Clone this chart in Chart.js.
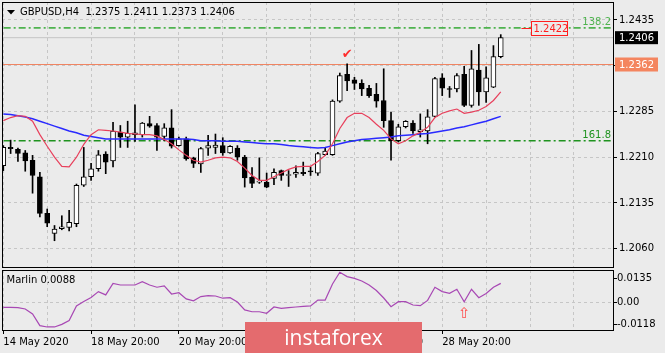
<!DOCTYPE html>
<html lang="en">
<head>
<meta charset="UTF-8">
<title>GBPUSD,H4</title>
<script src="https://cdn.jsdelivr.net/npm/chart.js"></script>
<style>
    body {
        margin: 0;
        width: 665px;
        height: 353px;
        overflow: hidden;
        position: relative;
        background-color: #ebebeb;
    }
    canvas { position: absolute; left: 0; }
    #priceChart { top: 0; }
    #marlinChart { top: 268px; }
</style>
</head>
<body>
<canvas id="priceChart" width="665" height="268"></canvas>
<canvas id="marlinChart" width="665" height="85"></canvas>
<script>
// GBPUSD H4 candles, 14 May 20:00 .. 29 May 2020
const open = [1.2196,1.2226,1.2223,1.2217,1.2205,1.2178,1.2118,1.2085,1.2093,1.2095,
    1.2101,1.2164,1.2178,1.2191,1.2215,1.2204,1.2251,1.2243,1.2247,1.2247,
    1.2265,1.2262,1.2244,1.2258,1.2229,1.2240,1.2209,1.2199,1.2225,1.2226,
    1.2229,1.2217,1.2225,1.2210,1.2177,1.2169,1.2169,1.2175,1.2188,1.2180,
    1.2182,1.2185,1.2187,1.2184,1.2214,1.2214,1.2302,1.2346,1.2337,1.2331,
    1.2323,1.2313,1.2303,1.2270,1.2237,1.2260,1.2266,1.2252,1.2253,1.2277,
    1.2340,1.2322,1.2322,1.2346,1.2295,1.2353,1.2317,1.2325,1.2375];
const high = [1.2229,1.2238,1.2225,1.2221,1.2213,1.2185,1.2125,1.2098,1.2114,1.2123,
    1.2166,1.2226,1.2200,1.2221,1.2219,1.2267,1.2262,1.2269,1.2296,1.2267,
    1.2277,1.2265,1.2265,1.2288,1.2243,1.2243,1.2210,1.2226,1.2246,1.2248,
    1.2242,1.2229,1.2229,1.2213,1.2193,1.2209,1.2184,1.2191,1.2189,1.2188,
    1.2196,1.2202,1.2194,1.2218,1.2225,1.2304,1.2348,1.2363,1.2341,1.2337,
    1.2328,1.2331,1.2355,1.2284,1.2264,1.2270,1.2270,1.2281,1.2288,1.2341,
    1.2347,1.2326,1.2347,1.2359,1.2385,1.2395,1.2358,1.2393,1.2411];
const low = [1.2188,1.2216,1.2203,1.2187,1.2151,1.2112,1.2096,1.2073,1.2091,1.2089,
    1.2096,1.2162,1.2172,1.2187,1.2183,1.2194,1.2226,1.2226,1.2236,1.2243,
    1.2259,1.2221,1.2237,1.2225,1.2228,1.2205,1.2193,1.2185,1.2213,1.2216,
    1.2213,1.2216,1.2205,1.2161,1.2160,1.2167,1.2160,1.2165,1.2172,1.2162,
    1.2177,1.2180,1.2180,1.2180,1.2213,1.2213,1.2300,1.2319,1.2321,1.2311,
    1.2308,1.2292,1.2259,1.2205,1.2235,1.2258,1.2249,1.2243,1.2232,1.2276,
    1.2311,1.2308,1.2317,1.2293,1.2292,1.2295,1.2300,1.2324,1.2373];
const close = [1.2226,1.2224,1.2216,1.2204,1.2180,1.2118,1.2102,1.2092,1.2096,1.2103,
    1.2164,1.2178,1.2191,1.2214,1.2202,1.2253,1.2243,1.2249,1.2250,1.2266,
    1.2261,1.2243,1.2258,1.2228,1.2240,1.2207,1.2200,1.2224,1.2229,1.2230,
    1.2217,1.2228,1.2210,1.2176,1.2167,1.2170,1.2161,1.2185,1.2180,1.2181,
    1.2185,1.2183,1.2186,1.2216,1.2220,1.2302,1.2344,1.2335,1.2331,1.2322,
    1.2311,1.2302,1.2270,1.2237,1.2260,1.2269,1.2253,1.2255,1.2276,1.2339,
    1.2323,1.2321,1.2344,1.2295,1.2355,1.2317,1.2340,1.2375,1.2406];

// moving averages (red = fast, blue = slow)
const maFast = [1.2270,1.2275,1.2278,1.2277,1.2269,1.2247,1.2228,1.2210,1.2195,1.2194,
    1.2210,1.2231,1.2247,1.2255,1.2254,1.2253,1.2251,1.2249,1.2248,1.2247,
    1.2247,1.2245,1.2239,1.2232,1.2222,1.2213,1.2205,1.2202,1.2205,1.2209,
    1.2210,1.2209,1.2203,1.2192,1.2180,1.2172,1.2172,1.2178,1.2184,1.2190,
    1.2194,1.2195,1.2195,1.2203,1.2213,1.2232,1.2257,1.2275,1.2282,1.2282,
    1.2275,1.2264,1.2254,1.2240,1.2232,1.2237,1.2245,1.2251,1.2259,1.2275,
    1.2282,1.2286,1.2289,1.2282,1.2284,1.2287,1.2293,1.2303,1.2317];
const maSlow = [1.2281,1.2280,1.2278,1.2276,1.2273,1.2269,1.2265,1.2261,1.2257,1.2253,
    1.2250,1.2246,1.2244,1.2242,1.2240,1.2240,1.2240,1.2240,1.2240,1.2240,
    1.2240,1.2240,1.2240,1.2240,1.2240,1.2240,1.2239,1.2237,1.2237,1.2237,
    1.2236,1.2236,1.2236,1.2235,1.2234,1.2233,1.2232,1.2232,1.2231,1.2229,
    1.2228,1.2227,1.2226,1.2225,1.2226,1.2229,1.2232,1.2235,1.2237,1.2239,
    1.2240,1.2241,1.2242,1.2243,1.2245,1.2246,1.2247,1.2248,1.2249,1.2251,
    1.2253,1.2255,1.2258,1.2260,1.2263,1.2266,1.2269,1.2273,1.2277];

// Marlin oscillator
const marlin = [-0.0025,-0.0025,-0.0026,-0.0034,-0.0061,-0.0125,-0.0132,-0.0132,-0.0118,-0.0097,
    -0.0017,0.0007,0.0029,0.0061,0.0043,0.0106,0.0097,0.0097,0.0097,0.0115,
    0.0097,0.0085,0.0092,0.0048,0.0055,0.0021,0.0011,0.0034,0.0039,0.0037,
    0.0025,0.0028,0.0004,-0.0039,-0.0049,-0.0049,-0.0057,-0.0023,-0.0030,-0.0026,
    -0.0023,-0.0020,-0.0017,0.0015,0.0015,0.0103,0.0167,0.0143,0.0133,0.0119,
    0.0097,0.0067,0.0026,-0.0021,0.0006,0.0006,-0.0012,-0.0016,0.0013,0.0085,
    0.0061,0.0052,0.0074,0.0006,0.0074,0.0028,0.0051,0.0085,0.0106];
const marlinText = 'Marlin 0.0088';

// horizontal levels
const fiboNames = ['138.2', '161.8'];
const fiboPrices = [1.2422, 1.2237];
const fiboColors = ['#4fb34f', '#1f931f'];
const resistPrice = 1.2362;
const markPrice = 1.2422;
const bidPrice = 1.2406;

// axes
const priceTicks = [1.2060, 1.2135, 1.2210, 1.2285, 1.2360, 1.2435];
const priceTickLabels = ['1.2060', '1.2135', '1.2210', '1.2285', '', '1.2435'];
const marlinTicks = [-0.0118, 0, 0.0135];
const marlinTickLabels = ['-0.0118', '0.00', '0.0135'];
const gridBars = [0, 6, 12, 18, 24, 30, 36, 42, 48, 54, 60, 66, 72, 78];
const dateBars = [0, 12, 24, 36, 48, 60];
const dateLabels = ['14 May 2020', '18 May 20:00', '20 May 20:00', '22 May 20:00', '26 May 20:00', '28 May 20:00'];

const symbol = 'GBPUSD,H4';
const checkBar = 47;
const arrowBar = 63;

const FONT = 'DejaVu Sans';
const X_MIN = -0.178, X_MAX = 83.48;
const last = close.length - 1;

const frame = {
    id: 'frame',
    afterDraw(chart) {
        const { ctx, chartArea: a } = chart;
        ctx.save();
        ctx.strokeStyle = '#000';
        ctx.lineWidth = 1;
        ctx.strokeRect(a.left + 0.5, a.top + 0.5, a.right - a.left - 1, a.bottom - a.top - 1);
        ctx.restore();
    }
};

const priceMarks = {
    id: 'priceMarks',
    afterDraw(chart) {
        const { ctx, chartArea: a } = chart;
        const xs = chart.scales.x, ys = chart.scales.y;
        ctx.save();
        ctx.font = '10px "' + FONT + '"';
        ctx.textBaseline = 'middle';

        // title
        ctx.fillStyle = '#000';
        ctx.beginPath();
        ctx.moveTo(7, 10); ctx.lineTo(15, 10); ctx.lineTo(11, 14.5); ctx.closePath();
        ctx.fill();
        const ohlc = [open[last], high[last], low[last], close[last]].map(v => v.toFixed(4)).join(' ');
        ctx.textAlign = 'left';
        ctx.fillText(symbol + '  ' + ohlc, 20, 12.5);

        // fibo level captions
        ctx.textAlign = 'right';
        ctx.textBaseline = 'alphabetic';
        fiboNames.forEach((n, i) => {
            ctx.fillStyle = fiboColors[i];
            ctx.fillText(n, a.right - 3, ys.getPixelForValue(fiboPrices[i]) - 3);
        });

        // red price mark
        const my = Math.round(ys.getPixelForValue(markPrice)) + 0.5;
        const mx = xs.getPixelForValue(72.2);
        ctx.strokeStyle = '#ff1e1e';
        ctx.lineWidth = 1;
        ctx.beginPath();
        ctx.moveTo(mx - 10, my); ctx.lineTo(mx, my);
        ctx.stroke();
        ctx.fillStyle = '#ebebeb';
        ctx.fillRect(mx, my - 7, 37, 14);
        ctx.strokeRect(Math.round(mx) + 0.5, my - 7, 36, 14);
        ctx.fillStyle = '#ff1e1e';
        ctx.textAlign = 'left';
        ctx.textBaseline = 'middle';
        ctx.fillText(markPrice.toFixed(4), mx + 2, my + 0.5);

        // check mark above the swing high
        ctx.font = 'bold 13px "' + FONT + '"';
        ctx.textAlign = 'center';
        ctx.fillStyle = '#ff2d2d';
        ctx.fillText('\u2714', xs.getPixelForValue(checkBar), ys.getPixelForValue(high[checkBar]) - 9);

        // right axis price boxes
        ctx.font = '10px "' + FONT + '"';
        ctx.textAlign = 'left';
        const ry = ys.getPixelForValue(resistPrice);
        ctx.fillStyle = '#f4855f';
        ctx.fillRect(a.right + 1, ry - 7, 43, 14);
        ctx.fillStyle = '#fff';
        ctx.fillText(resistPrice.toFixed(4), a.right + 5, ry + 0.5);
        const by = ys.getPixelForValue(bidPrice);
        ctx.fillStyle = '#000';
        ctx.fillRect(a.right + 1, by - 6.5, 43, 13);
        ctx.fillStyle = '#fff';
        ctx.fillText(bidPrice.toFixed(4), a.right + 5, by + 0.5);
        ctx.restore();
    }
};

const marlinMarks = {
    id: 'marlinMarks',
    afterDraw(chart) {
        const { ctx } = chart;
        const xs = chart.scales.x, ys = chart.scales.y;
        ctx.save();
        ctx.font = '10px "' + FONT + '"';
        ctx.textBaseline = 'middle';
        ctx.fillStyle = '#000';
        ctx.fillText(marlinText, 6.5, 12.5);

        ctx.font = '15px "' + FONT + '"';
        ctx.textAlign = 'center';
        ctx.fillStyle = '#ff4a4a';
        ctx.fillText('\u21E7', xs.getPixelForValue(arrowBar), ys.getPixelForValue(marlin[arrowBar]) + 12);

        // watermark
        ctx.fillStyle = '#e46b6e';
        ctx.fillRect(245, 54, 177, 31);
        ctx.fillStyle = '#fff';
        ctx.font = '21px "Open Sans"';
        ctx.textBaseline = 'alphabetic';
        ctx.fillText('instaforex', 333.5, 77);
        ctx.restore();
    }
};

const tickFont = { family: FONT, size: 10 };
const idx = close.map((_, i) => i);
const levelLine = (price, color, dash, width) => ({
    type: 'line',
    data: [{ x: -2, y: price }, { x: 90, y: price }],
    borderColor: color, borderWidth: width, borderDash: dash,
    pointRadius: 0
});

new Chart(document.getElementById('priceChart'), {
    type: 'bar',
    data: {
        datasets: [
            { type: 'line', data: idx.map(i => ({ x: i, y: maFast[i] })), borderColor: '#e8405c', borderWidth: 1.2, pointRadius: 0, tension: 0 },
            { type: 'line', data: idx.map(i => ({ x: i, y: maSlow[i] })), borderColor: '#2a2aff', borderWidth: 1.5, pointRadius: 0, tension: 0 },
            {
                data: idx.map(i => ({ x: i, y: [Math.min(open[i], close[i]), Math.max(open[i], close[i])] })),
                backgroundColor: idx.map(i => close[i] >= open[i] ? '#ffffff' : '#000000'),
                borderColor: '#000', borderWidth: 1, borderSkipped: false,
                barThickness: 5, minBarLength: 1, grouped: false
            },
            {
                data: idx.map(i => ({ x: i, y: [low[i], high[i]] })),
                backgroundColor: '#000', borderWidth: 0,
                barThickness: 1, grouped: false
            },
            levelLine(bidPrice, '#c4c4c4', [], 1),
            levelLine(resistPrice, '#f08462', [], 1),
            levelLine(fiboPrices[0], fiboColors[0], [7, 3, 2, 3], 1.6),
            levelLine(fiboPrices[1], fiboColors[1], [7, 3, 2, 3], 1.4)
        ]
    },
    options: {
        responsive: false,
        animation: false,
        devicePixelRatio: 1,
        layout: { padding: { top: 2, left: 2, right: 0, bottom: 0 } },
        plugins: { legend: { display: false }, tooltip: { enabled: false } },
        scales: {
            x: {
                type: 'linear', min: X_MIN, max: X_MAX, offset: false,
                afterBuildTicks: s => { s.ticks = gridBars.map(v => ({ value: v })); },
                afterFit: s => { s.height = 0; s.paddingLeft = 0; s.paddingRight = 0; },
                ticks: { display: false },
                grid: { color: '#c6c6c6', drawTicks: false, offset: false },
                border: { display: false, dash: [3, 3] }
            },
            y: {
                position: 'right', min: 1.20283, max: 1.24645,
                afterBuildTicks: s => { s.ticks = priceTicks.map(v => ({ value: v })); },
                afterFit: s => { s.width = 51; s.paddingTop = 0; s.paddingBottom = 0; },
                ticks: { color: '#000', font: tickFont, padding: 2, callback: (v, i) => priceTickLabels[i] },
                grid: { color: '#c6c6c6', tickColor: '#000', tickLength: 3, tickBorderDash: [] },
                border: { display: false, dash: [3, 3] }
            }
        }
    },
    plugins: [frame, priceMarks]
});

new Chart(document.getElementById('marlinChart'), {
    type: 'line',
    data: {
        datasets: [
            { data: idx.map(i => ({ x: i, y: marlin[i] })), borderColor: '#a848b4', borderWidth: 1.2, pointRadius: 0, tension: 0 }
        ]
    },
    options: {
        responsive: false,
        animation: false,
        devicePixelRatio: 1,
        layout: { padding: { top: 2, left: 2, right: 0, bottom: 0 } },
        plugins: { legend: { display: false }, tooltip: { enabled: false } },
        scales: {
            x: {
                type: 'linear', min: X_MIN, max: X_MAX, offset: false,
                afterBuildTicks: s => { s.ticks = gridBars.map(v => ({ value: v })); },
                afterFit: s => { s.height = 22; s.paddingLeft = 0; s.paddingRight = 0; },
                ticks: {
                    autoSkip: false, maxRotation: 0, align: 'start', padding: 2,
                    color: '#000', font: tickFont,
                    callback: v => { const k = dateBars.indexOf(v); return k < 0 ? '' : dateLabels[k]; }
                },
                grid: {
                    color: '#c6c6c6', tickLength: 3, tickBorderDash: [],
                    tickColor: c => (c.tick && dateBars.includes(c.tick.value)) ? '#000' : 'rgba(0,0,0,0)'
                },
                border: { display: false, dash: [3, 3] }
            },
            y: {
                position: 'right', min: -0.0154, max: 0.0179,
                afterBuildTicks: s => { s.ticks = marlinTicks.map(v => ({ value: v })); },
                afterFit: s => { s.width = 51; s.paddingTop = 0; s.paddingBottom = 0; },
                ticks: { color: '#000', font: tickFont, padding: 0, callback: (v, i) => marlinTickLabels[i] },
                grid: {
                    color: c => (c.tick && c.tick.value === 0) ? '#c6c6c6' : 'rgba(0,0,0,0)',
                    tickColor: '#000', tickLength: 3, tickBorderDash: []
                },
                border: { display: false, dash: [3, 3] }
            }
        }
    },
    plugins: [frame, marlinMarks]
});
</script>
</body>
</html>
